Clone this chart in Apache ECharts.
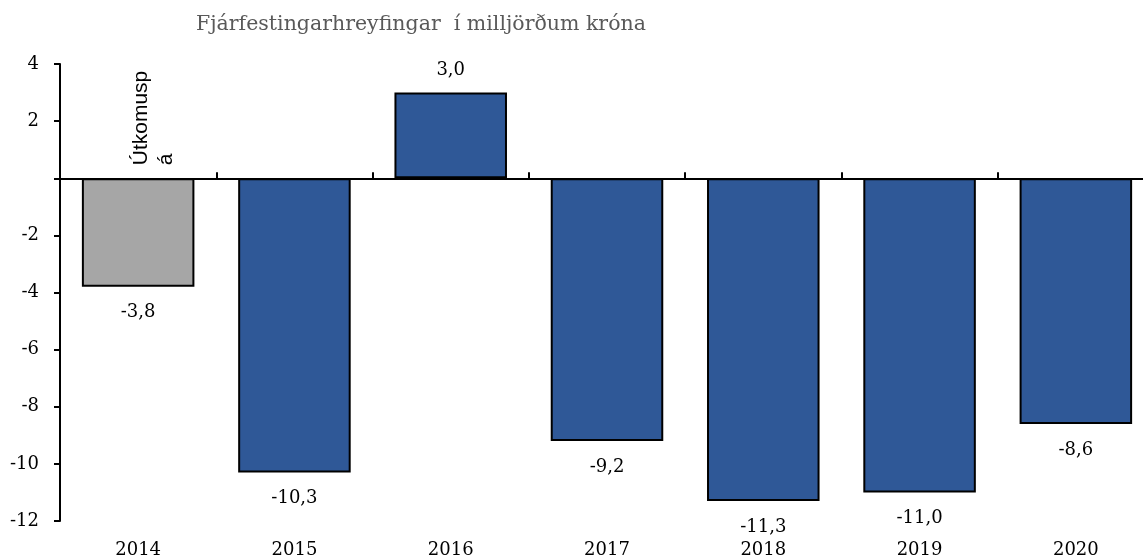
<!DOCTYPE html>
<html><head><meta charset="utf-8">
<script src="https://cdn.jsdelivr.net/npm/echarts@6/dist/echarts.min.js"></script>
<style>html,body{margin:0;padding:0;background:#fff}#c{width:1143px;height:560px}</style>
</head><body><div id="c"></div>
<script>
const categories = ['2014','2015','2016','2017','2018','2019','2020'];
const values = [-3.8, -10.3, 3.0, -9.2, -11.3, -11.0, -8.6];
const forecastIndex = 0; // 2014 is shown as "Útkomuspá"
const yTicks = [-12,-10,-8,-6,-4,-2,0,2,4];
const titleText = 'Fjárfestingarhreyfingar  í milljörðum króna';
const noteText = 'Útkomusp\ná';

const serif = '"DejaVu Serif", serif';
const chart = echarts.init(document.getElementById('c'));
const fmt = v => v.toFixed(1).replace('.', ',');

chart.setOption({
  animation: false,
  title: { text: titleText, left: 191, top: 9,
    textStyle: { fontFamily: serif, fontSize: 20.5, fontWeight: 'normal', color: '#595959' } },
  grid: { left: 60, top: 64, width: 1094, height: 457, outerBoundsMode: 'none', containLabel: false },
  xAxis: [
    { type: 'category', data: categories, position: 'bottom',
      axisLine: { onZero: true, lineStyle: { color: '#000', width: 2 } },
      axisTick: { show: true, inside: true, length: 6, lineStyle: { color: '#000', width: 2 } },
      axisLabel: { show: false } },
    { type: 'category', data: categories, position: 'bottom',
      axisLine: { show: false, onZero: false }, axisTick: { show: false },
      axisLabel: { margin: 20, fontFamily: serif, fontSize: 18, color: '#000' } }
  ],
  yAxis: { type: 'value', min: yTicks[0], max: yTicks[yTicks.length - 1], interval: 2, splitLine: { show: false },
    axisLine: { show: true, lineStyle: { color: '#000', width: 2 } },
    axisTick: { show: true, length: 6, lineStyle: { color: '#000', width: 2 } },
    axisLabel: { margin: 21, fontFamily: serif, fontSize: 18, color: '#000',
      formatter: v => (v === 0 ? '' : String(v)) } },
  series: [{
    type: 'bar', xAxisIndex: 0, barCategoryGap: '28%',
    data: values.map((v, i) => ({ value: v,
      itemStyle: { color: i === forecastIndex ? '#A6A6A6' : '#2F5897' },
      label: { position: v < 0 ? 'bottom' : 'top', distance: v < 0 ? 17 : 13 } })),
    itemStyle: { borderColor: '#000', borderWidth: 2 },
    label: { show: true, fontFamily: serif, fontSize: 18, color: '#000',
      formatter: p => fmt(p.value) }
  }]
});

const p = chart.convertToPixel({ xAxisIndex: 0, yAxisIndex: 0 }, [categories[forecastIndex], 0]);
chart.setOption({ graphic: [{ type: 'text', x: p[0] - 9, y: p[1] - 13, rotation: Math.PI / 2,
  style: { text: noteText, fontFamily: '"Liberation Sans", Arial, sans-serif', fontSize: 21,
    lineHeight: 25, fill: '#000', align: 'left', verticalAlign: 'top' } }] });
</script></body></html>
